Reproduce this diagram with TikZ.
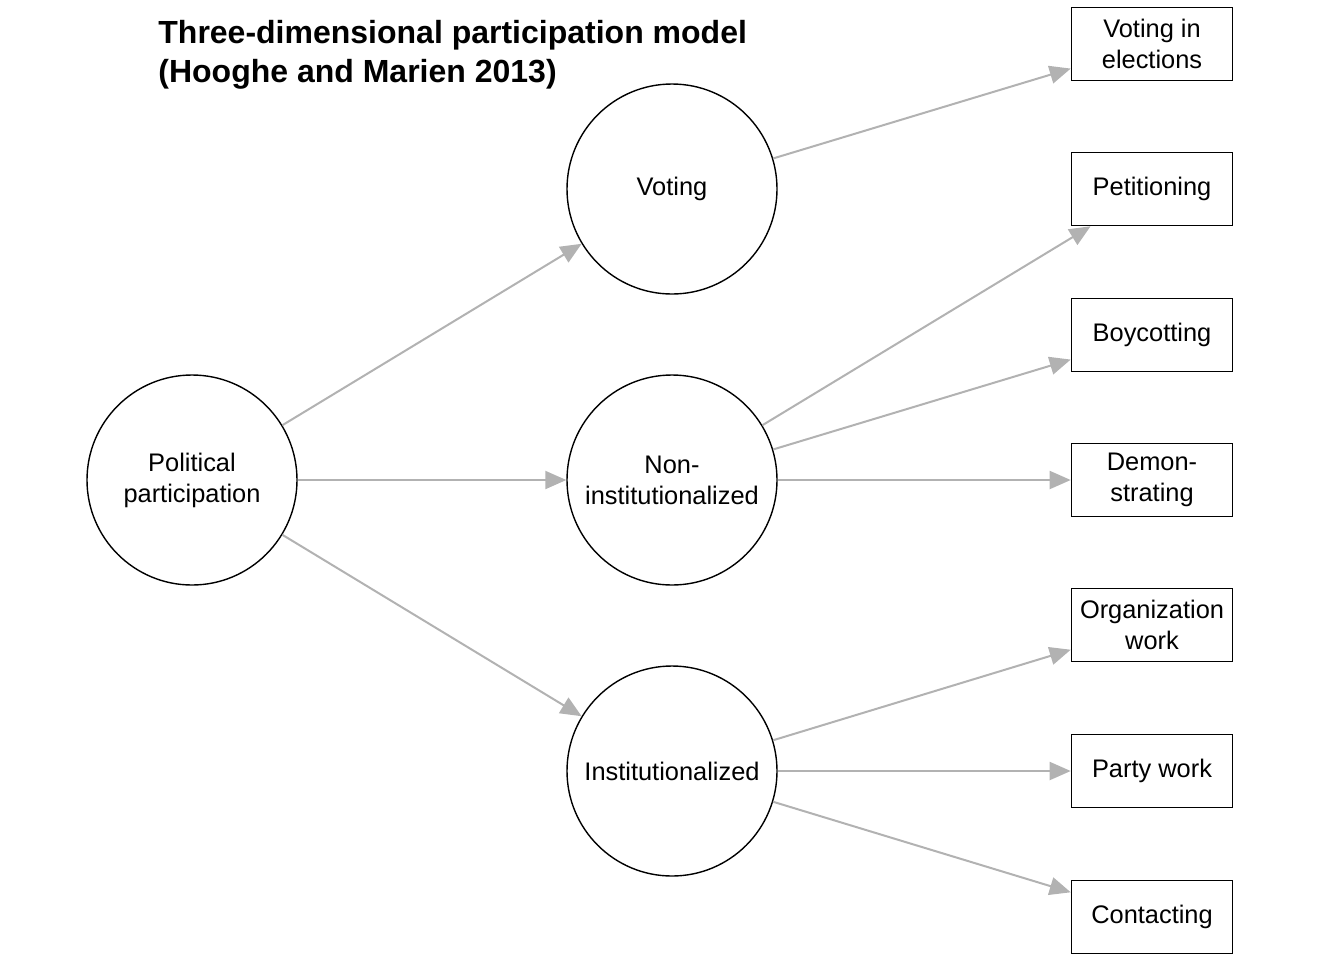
\documentclass[tikz,border=0pt]{standalone}
\usepackage{fontspec}
\setmainfont{Liberation Sans}
\usepackage{xcolor}
\usetikzlibrary{positioning, arrows.meta}

\begin{document}
\begin{tikzpicture}[
    x=0.5pt, y=-0.5pt,
    font=\fontsize{12.7}{15.5}\selectfont,
    dimension/.style={
        draw=black, circle, line width=0.7pt, minimum size=105pt,
        align=center, inner sep=0pt,
    },
    item/.style={
        draw=black, line width=0.8pt, minimum width=80.5pt, minimum height=36.5pt,
        align=center, inner sep=2pt,
    },
    heading/.style={font=\fontsize{16}{19.5}\selectfont\bfseries, anchor=base west, inner sep=0pt},
    arrow/.style={-{Triangle[length=10.5pt, width=9pt]}, draw=black!30, line width=1pt},
]
\useasboundingbox (0,0) rectangle (1344,960);

% --- title ---
\node[heading] (title1) at (158,43) {Three-dimensional participation model};
\node[heading] (title2) at (158,82) {(Hooghe and Marien 2013)};

% --- latent dimensions ---
\node[dimension] (pol) at (192,480) {Political\\participation};
\node[dimension] (vot) at (672,189) {Voting};
\node[dimension] (non) at (672,480) {Non-\\institutionalized};
\node[dimension] (ins) at (672,771) {Institutionalized};

% --- indicators ---
\node[item] (elec) at (1152,44) {Voting in\\elections};
\node[item] (peti) at (1152,189) {Petitioning};
\node[item] (boyc) at (1152,335) {Boycotting};
\node[item] (demo) at (1152,480) {Demon-\\strating};
\node[item] (orga) at (1152,625) {Organization\\work};
\node[item] (part) at (1152,771) {Party work};
\node[item] (cont) at (1152,917) {Contacting};

% --- paths ---
\foreach \a/\b in {pol/vot, pol/non, pol/ins, vot/elec, non/peti, non/boyc,
                   non/demo, ins/orga, ins/part, ins/cont}
    \draw[arrow] (\a) -- (\b);

\end{tikzpicture}
\end{document}
